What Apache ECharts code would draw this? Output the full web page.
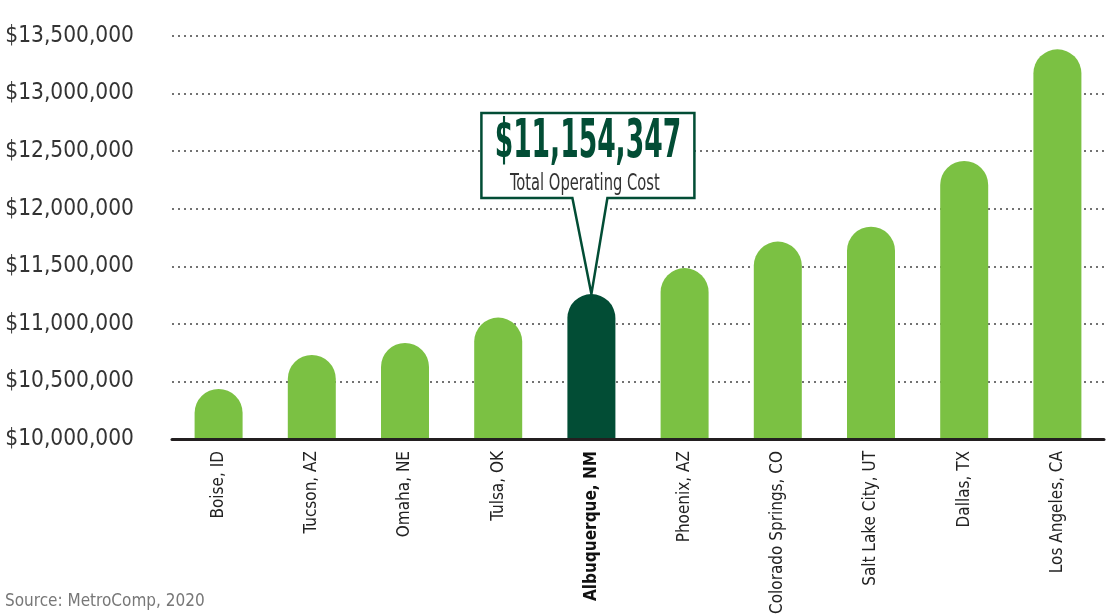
<!DOCTYPE html>
<html>
<head>
<meta charset="utf-8">
<script src="https://cdn.jsdelivr.net/npm/echarts@6/dist/echarts.min.js"></script>
<style>
  html, body { margin: 0; padding: 0; background: #fff; }
  #chart { width: 1114px; height: 614px; }
</style>
</head>
<body>
<div id="chart"></div>
<script>
var cities = ['Boise, ID', 'Tucson, AZ', 'Omaha, NE', 'Tulsa, OK', 'Albuquerque, NM',
              'Phoenix, AZ', 'Colorado Springs, CO', 'Salt Lake City, UT', 'Dallas, TX', 'Los Angeles, CA'];
var costs = [10330000, 10625000, 10730000, 10950000, 11154347,
             11380000, 11610000, 11740000, 12310000, 13280000];
var highlightCity = 'Albuquerque, NM';
var yTicks = { min: 10000000, max: 13500000, step: 500000 };

var green = '#7bc143';
var darkGreen = '#024d35';
var fontName = '"DejaVu Sans Condensed", Roboto, sans-serif';
var hi = cities.indexOf(highlightCity);

function money(v) {
    return '$' + Math.round(v).toString().replace(/\B(?=(\d{3})+(?!\d))/g, ',');
}

var chart = echarts.init(document.getElementById('chart'));

function renderBar(params, api) {
    var i = api.value(0);
    var top = api.coord([i, api.value(1)]);
    var base = api.coord([i, yTicks.min]);
    var half = 24;
    var capY = top[1] - 12;
    var children = [{
        type: 'rect',
        shape: { x: top[0] - half, y: capY, width: half * 2, height: base[1] - capY - 1, r: [half, half, 0, 0] },
        style: { fill: i === hi ? darkGreen : green }
    }];
    if (i === hi) {
        // callout box pointing at the bar top
        var tx = top[0], ty = capY;
        var L = tx - 110, R = tx + 103, T = ty - 181, B = ty - 96;
        children.push({
            type: 'polygon',
            shape: { points: [[L, T], [R, T], [R, B], [tx + 16, B], [tx, ty], [tx - 19, B], [L, B]] },
            style: { fill: '#fff', stroke: darkGreen, lineWidth: 2.5, lineJoin: 'miter' }
        });
        children.push({
            type: 'text', x: (L + R) / 2, y: T + 30, scaleX: 0.82, scaleY: 1.5,
            style: { text: money(api.value(1)), font: 'bold 36px ' + fontName,
                     fill: darkGreen, align: 'center', verticalAlign: 'middle' }
        });
        children.push({
            type: 'text', x: (L + R) / 2 - 3, y: T + 71, scaleX: 0.86, scaleY: 1.2,
            style: { text: 'Total Operating Cost', font: '19px ' + fontName,
                     fill: '#333', align: 'center', verticalAlign: 'middle' }
        });
    }
    return { type: 'group', children: children };
}

var option = {
    animation: false,
    grid: { left: 172, right: 10, top: 36, bottom: 175, outerBoundsMode: 'none' },
    xAxis: {
        type: 'category',
        data: cities,
        axisLine: { lineStyle: { color: '#231f20', width: 3 } },
        axisTick: { show: false },
        axisLabel: {
            rotate: 90, margin: 12, color: '#222',
            fontFamily: fontName, fontSize: 17,
            formatter: function (v) { return v === highlightCity ? '{b|' + v + '}' : v; },
            rich: { b: { fontWeight: 'bold', fontFamily: fontName, fontSize: 17, color: '#111' } }
        }
    },
    yAxis: {
        type: 'value',
        min: yTicks.min, max: yTicks.max, interval: yTicks.step,
        axisLine: { show: false },
        axisTick: { show: false },
        axisLabel: {
            margin: 38, color: '#333',
            fontFamily: fontName, fontSize: 22.5,
            formatter: money
        },
        splitLine: { lineStyle: { color: '#444', width: 1.5, type: [2, 4] } }
    },
    series: [{
        type: 'custom',
        renderItem: renderBar,
        encode: { x: 0, y: 1 },
        data: costs.map(function (v, i) { return [i, v]; }),
        z: 3
    }],
    graphic: [{
        type: 'text', left: 5, top: 593,
        style: { text: 'Source: MetroComp, 2020', font: '17px ' + fontName, fill: '#777' }
    }]
};

chart.setOption(option);
</script>
</body>
</html>
